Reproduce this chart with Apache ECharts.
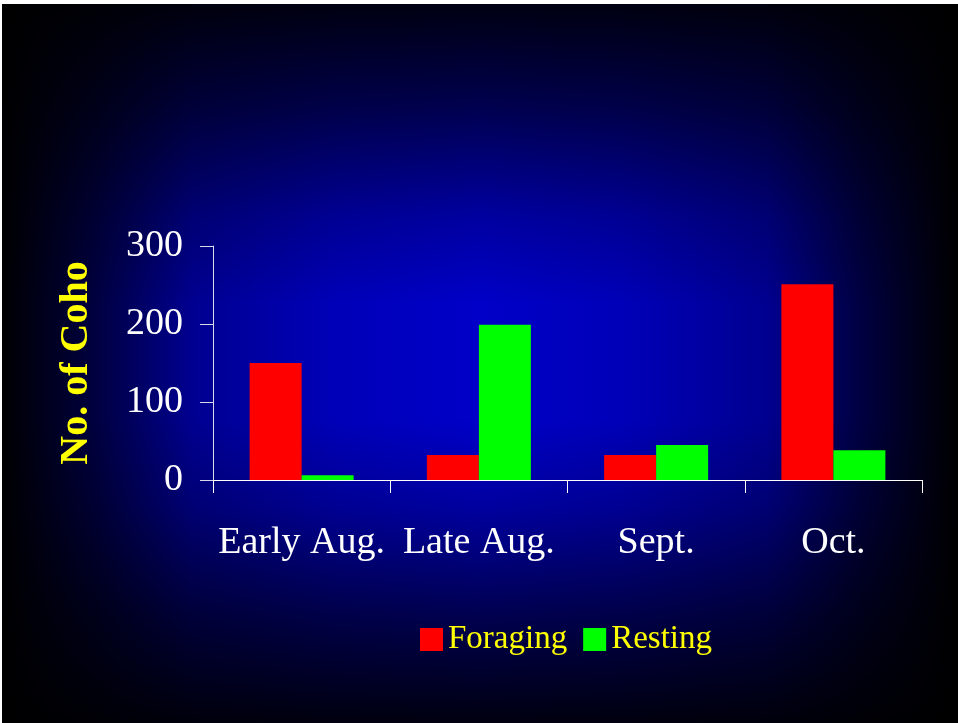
<!DOCTYPE html>
<html>
<head>
<meta charset="utf-8">
<style>
html,body{margin:0;padding:0;background:#ffffff;}
#chart{width:958px;height:723px;}
</style>
<script src="https://cdn.jsdelivr.net/npm/echarts@6/dist/echarts.min.js"></script>
</head>
<body>
<div id="chart"></div>
<script>
const categories = ['Early Aug.', 'Late Aug.', 'Sept.', 'Oct.'];
const foraging = [150, 32, 32, 251];
const resting = [6, 199, 45, 38];
const yTicks = [0, 100, 200, 300];

const chart = echarts.init(document.getElementById('chart'));
const serif = '"Liberation Serif", "Times New Roman", serif';
const W = 958, H = 723;

chart.setOption({
  animation: false,
  backgroundColor: {
    type: 'linear', x: 0, y: 0, x2: 1, y2: 0,
    colorStops: [
      {offset: 0, color: '#000000'},
      {offset: 0.1, color: '#000040'},
      {offset: 0.2, color: '#000090'},
      {offset: 0.35, color: '#0000b8'},
      {offset: 0.5, color: '#0000c8'},
      {offset: 0.65, color: '#0000b8'},
      {offset: 0.8, color: '#000090'},
      {offset: 0.9, color: '#000040'},
      {offset: 1, color: '#000000'}
    ]
  },
  graphic: [
    {
      type: 'rect', z: -100, silent: true,
      shape: {x: 0, y: 0, width: W, height: H},
      style: {
        fill: {
          type: 'linear', x: 0, y: 0, x2: 0, y2: 1,
          colorStops: [
            {offset: 0, color: 'rgba(0,0,0,0.92)'},
            {offset: 0.15, color: 'rgba(0,0,0,0.6)'},
            {offset: 0.3, color: 'rgba(0,0,0,0.2)'},
            {offset: 0.42, color: 'rgba(0,0,0,0)'},
            {offset: 0.58, color: 'rgba(0,0,0,0)'},
            {offset: 0.7, color: 'rgba(0,0,0,0.2)'},
            {offset: 0.85, color: 'rgba(0,0,0,0.6)'},
            {offset: 1, color: 'rgba(0,0,0,0.92)'}
          ]
        }
      }
    },
    {type: 'rect', z: 100, silent: true, shape: {x: 0, y: 0, width: W, height: 4}, style: {fill: '#ffffff'}},
    {type: 'rect', z: 100, silent: true, shape: {x: 0, y: 0, width: 2, height: H}, style: {fill: '#ffffff'}}
  ],
  grid: {left: 213, right: 36, top: 246, bottom: 243, containLabel: false},
  legend: {
    data: ['Foraging', 'Resting'],
    left: 415, top: 618,
    itemWidth: 23, itemHeight: 23, itemGap: 16,
    icon: 'rect',
    textStyle: {color: '#ffff00', fontSize: 33, fontFamily: serif, padding: [0, 0, 0, 0]}
  },
  xAxis: {
    type: 'category',
    data: categories,
    axisLine: {show: true, lineStyle: {color: '#ffffff', width: 1}},
    axisTick: {show: true, length: 13, inside: false, alignWithLabel: false, lineStyle: {color: '#ffffff'}},
    axisLabel: {color: '#ffffff', fontSize: 38, fontFamily: serif, margin: 44, interval: 0},
    splitLine: {show: false}
  },
  yAxis: {
    type: 'value',
    min: 0, max: 300, interval: 100,
    name: 'No. of Coho',
    nameLocation: 'middle',
    nameGap: 116,
    nameRotate: 90,
    nameTextStyle: {color: '#ffff00', fontSize: 40, fontWeight: 'bold', fontFamily: serif},
    axisLine: {show: true, lineStyle: {color: '#d8d8e8', width: 1}},
    axisTick: {show: true, length: 13, lineStyle: {color: '#d8d8e8'}},
    axisLabel: {color: '#ffffff', fontSize: 38, fontFamily: serif, margin: 30,
      formatter: v => yTicks.includes(v) ? String(v) : ''},
    splitLine: {show: false}
  },
  series: [
    {name: 'Foraging', type: 'bar', data: foraging, barWidth: 52, barGap: '0%',
      itemStyle: {color: '#ff0000'}},
    {name: 'Resting', type: 'bar', data: resting, barWidth: 52, barGap: '0%',
      itemStyle: {color: '#00ff00'}}
  ]
});
</script>
</body>
</html>
